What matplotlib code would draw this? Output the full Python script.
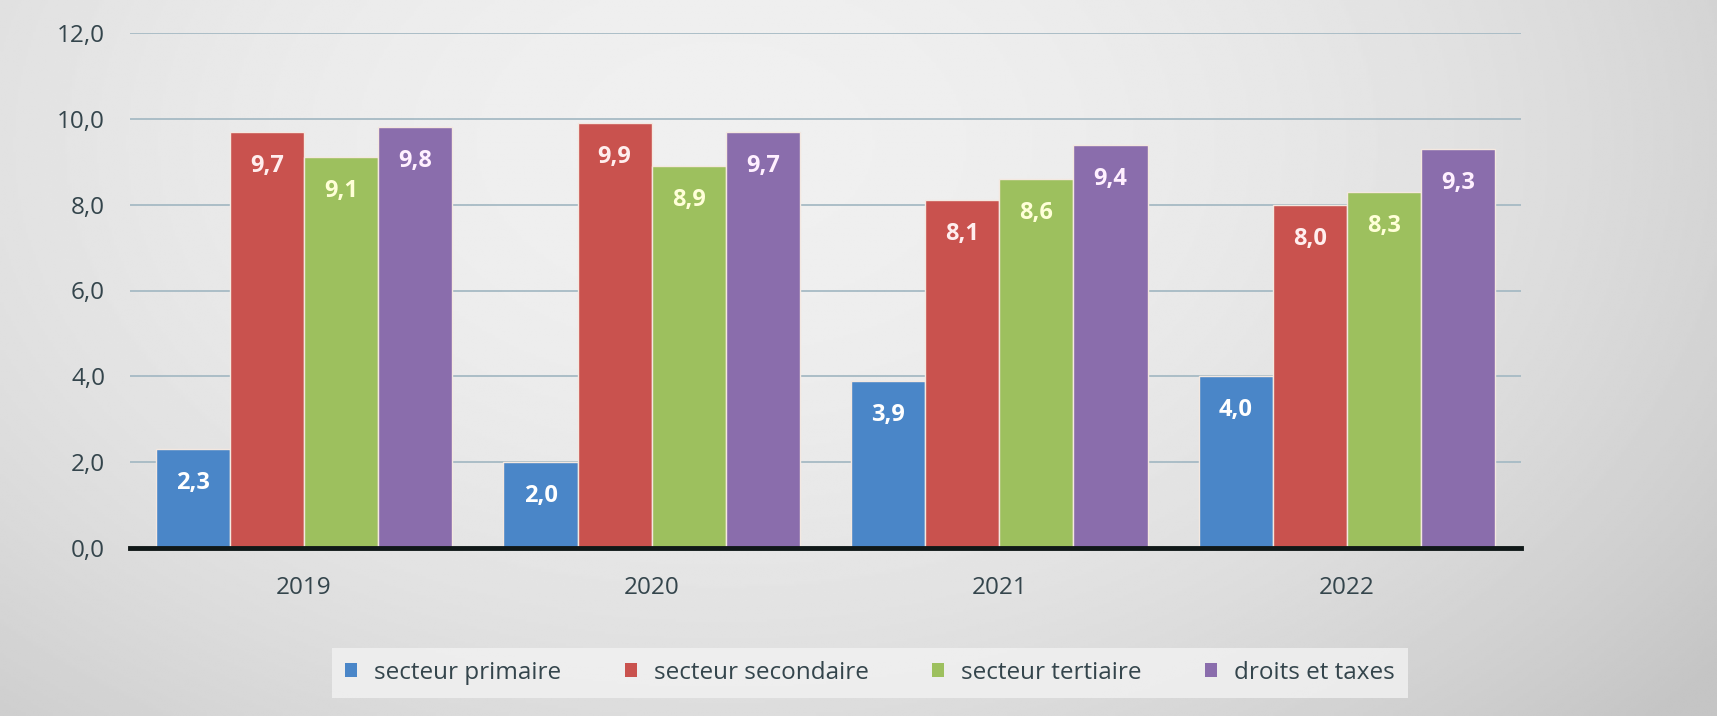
import numpy as np
import matplotlib.pyplot as plt
from matplotlib.patches import Patch

years = ["2019", "2020", "2021", "2022"]
series = ["secteur primaire", "secteur secondaire", "secteur tertiaire", "droits et taxes"]
primaire = [2.3, 2.0, 3.9, 4.0]
secondaire = [9.7, 9.9, 8.1, 8.0]
tertiaire = [9.1, 8.9, 8.6, 8.3]
droits = [9.8, 9.7, 9.4, 9.3]

colors = ["#4a86c8", "#c9524e", "#9dc05e", "#8a6dac"]
label_colors = ["#ffffff", "#ffeeee", "#ffffd8", "#fff0ff"]
text_color = "#34454c"

plt.rcParams["font.family"] = ["Open Sans", "DejaVu Sans"]

fig = plt.figure(figsize=(17.17, 7.16), dpi=100)

# grey gradient background, lighter top-middle, darker at the sides
bg = fig.add_axes([0, 0, 1, 1], zorder=-10)
yy, xx = np.mgrid[0:1:300j, 0:1:700j]
r2 = ((xx - 0.42) / 0.8) ** 2 + ((yy - 0.2) / 1.3) ** 2
shade = np.clip(0.94 - 0.2 * r2, 0.77, 0.94)
bg.imshow(shade, cmap="gray", vmin=0, vmax=1, aspect="auto",
          extent=[0, 1, 1, 0], interpolation="bilinear")
bg.set_axis_off()

ax = fig.add_axes([130 / 1717, 1 - 548 / 716, 1391 / 1717, 515 / 716])
ax.set_facecolor("none")

data = [primaire, secondaire, tertiaire, droits]
x = np.arange(len(years))
width = 0.213
offsets = (np.arange(4) - 1.5) * width

for vals, off, col, lcol, name in zip(data, offsets, colors, label_colors, series):
    bars = ax.bar(x + off, vals, width=width, color=col, edgecolor="#f4e8e0",
                  linewidth=1.0, zorder=3, label=name)
    for b, v in zip(bars, vals):
        ax.annotate(f"{v:.1f}".replace(".", ","),
                    (b.get_x() + b.get_width() / 2, v),
                    xytext=(0, -34), textcoords="offset pixels",
                    ha="center", va="center", color=lcol,
                    fontsize=17, fontweight="bold", zorder=4)

ax.set_xlim(-0.5, 3.5)
ax.set_ylim(0, 12)
ax.set_yticks(np.arange(0, 13, 2))
ax.set_yticklabels([f"{t:.1f}".replace(".", ",") for t in np.arange(0, 13, 2)])
ax.set_xticks(x)
ax.set_xticklabels(years)
ax.tick_params(axis="both", length=0, labelsize=17.5, colors=text_color)
ax.tick_params(axis="x", pad=20)
ax.tick_params(axis="y", pad=18)

ax.grid(axis="y", color="#a6bac4", linewidth=1.3, zorder=1)
for s in ["top", "right", "left"]:
    ax.spines[s].set_visible(False)
ax.spines["bottom"].set_color("#101818")
ax.spines["bottom"].set_linewidth(3.5)
ax.spines["bottom"].set_zorder(5)

handles = [Patch(facecolor=c, edgecolor="none") for c in colors]
leg = fig.legend(handles, series, loc="center", bbox_to_anchor=(870 / 1717, 1 - 673 / 716),
                 ncol=4, fontsize=17.5, frameon=True, handlelength=0.5, handleheight=0.5,
                 handletextpad=0.7, columnspacing=2.6, borderpad=0.55, borderaxespad=0,
                 fancybox=False)
leg.get_frame().set_facecolor("#f2f2f2")
leg.get_frame().set_edgecolor("none")
leg.get_frame().set_alpha(0.8)
for t in leg.get_texts():
    t.set_color(text_color)

fig.savefig("out.png", dpi=100)
